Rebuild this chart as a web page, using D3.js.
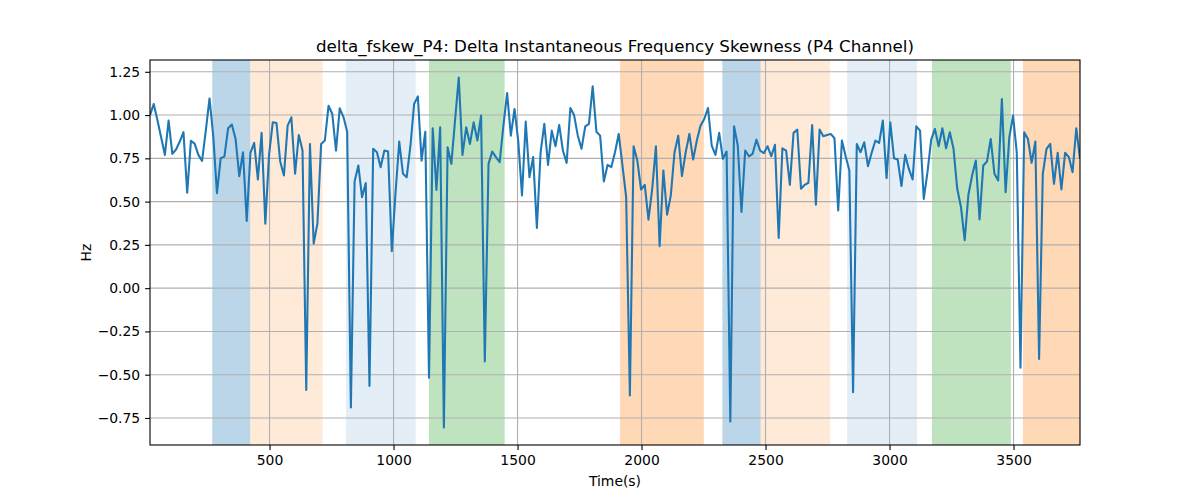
<!DOCTYPE html>
<html><head><meta charset="utf-8">
<script src="https://cdn.jsdelivr.net/npm/d3@7"></script>
<style>body{margin:0;background:#fff} svg{font-family:"DejaVu Sans",sans-serif}</style>
</head><body><svg id="c" width="1200" height="500"></svg>
<script>
// Series values (Hz), uniformly sampled
const values = [
1.000,1.064,0.97,0.87,0.770,0.968,0.776,0.801,0.847,0.901,
0.551,0.851,0.835,0.770,0.735,0.91,1.096,0.88,0.549,0.751,
0.760,0.924,0.945,0.862,0.647,0.785,0.388,0.782,0.839,0.628,
0.897,0.373,0.77,0.958,0.954,0.732,0.651,0.939,0.987,0.661,
0.885,0.795,-0.588,0.833,0.257,0.373,0.833,0.853,1.054,1.006,
0.795,1.039,0.99,0.904,-0.689,0.616,0.709,0.526,0.607,-0.565,
0.805,0.785,0.699,0.795,0.789,0.213,0.55,0.847,0.661,0.641,
0.82,1.064,1.108,0.737,0.904,-0.517,0.924,0.568,0.929,-0.805,
0.814,0.718,0.968,1.217,0.770,0.929,0.833,0.958,0.853,0.997,
-0.424,0.718,0.789,0.757,0.728,0.939,1.127,0.881,1.035,0.847,
0.536,0.962,0.641,0.757,0.348,0.785,0.949,0.712,0.910,0.820,
0.943,0.795,0.724,1.041,1.000,0.881,0.805,0.935,0.949,1.166,
0.904,0.881,0.616,0.712,0.699,0.785,0.891,0.709,0.526,-0.620,
0.820,0.737,0.570,0.597,0.396,0.574,0.820,0.242,0.680,0.424,
0.536,0.785,0.881,0.647,0.785,0.891,0.743,0.853,0.939,0.977,
1.041,0.824,0.770,0.897,0.747,0.789,-0.770,0.935,0.824,0.440,
0.795,0.762,0.776,0.858,0.795,0.780,0.820,0.762,0.828,0.290,
0.808,0.795,0.597,0.897,0.916,0.574,0.597,0.609,0.943,0.482,
0.916,0.878,0.885,0.891,0.866,0.449,0.853,0.762,0.680,-0.601,
0.833,0.785,0.843,0.705,0.782,0.853,0.839,0.968,0.636,0.958,
0.751,0.743,0.590,0.770,0.689,0.628,0.935,0.910,0.516,0.670,
0.858,0.920,0.820,0.924,0.808,0.901,0.805,0.574,0.469,0.277,
0.540,0.651,0.737,0.397,0.709,0.732,0.862,0.661,0.622,1.093,
0.555,0.872,0.997,0.785,-0.459,0.901,0.862,0.724,0.847,-0.409,
0.661,0.805,0.833,0.603,0.782,0.570,0.782,0.757,0.670,0.924,
0.747
];
const T0 = 18, STEP = 15; // sampling grid of the time axis (s)
const times = values.map((_, i) => T0 + i * STEP);

const spanStarts = [269, 422, 808, 1143, 1913, 2326, 2480, 2829, 3171, 3538];
const spanEnds   = [422, 714, 1089, 1448, 2251, 2480, 2760, 3111, 3489, 3768];
const spanKinds  = ["blue","lightorange","lightblue","green","orange","blue","lightorange","lightblue","green","orange"];

const xTicks = [500, 1000, 1500, 2000, 2500, 3000, 3500];
const yTicks = [-0.75, -0.5, -0.25, 0, 0.25, 0.5, 0.75, 1.0, 1.25];

const titleText = "delta_fskew_P4: Delta Instantaneous Frequency Skewness (P4 Channel)";
const xLabel = "Time(s)";
const yLabel = "Hz";

const spanStyle = {
  blue: {fill: "#1f77b4", op: 0.3},
  orange: {fill: "#ff7f0e", op: 0.3},
  lightorange: {fill: "#ff7f0e", op: 0.16},
  lightblue: {fill: "#1f77b4", op: 0.12},
  green: {fill: "#2ca02c", op: 0.3}
};

const L = 150, R = 1080, T = 60, B = 445;
const svg = d3.select("#c");

const x = d3.scaleLinear().domain([times[0], times[times.length - 1]]).range([L, R]);
const [ymin, ymax] = d3.extent(values);
const pad = (ymax - ymin) * 0.05;
const y = d3.scaleLinear().domain([ymin - pad, ymax + pad]).range([B, T]);

svg.append("defs").append("clipPath").attr("id", "clip")
  .append("rect").attr("x", L).attr("y", T).attr("width", R - L).attr("height", B - T);

const plot = svg.append("g").attr("clip-path", "url(#clip)");

// spans
plot.selectAll("rect.span").data(spanStarts.map((s, i) => ({s, e: spanEnds[i], k: spanKinds[i]})))
  .join("rect").attr("class", "span")
  .attr("x", d => x(d.s)).attr("width", d => x(d.e) - x(d.s))
  .attr("y", T).attr("height", B - T)
  .attr("fill", d => spanStyle[d.k].fill).attr("fill-opacity", d => spanStyle[d.k].op);

// grid
plot.selectAll("line.gx").data(xTicks).join("line")
  .attr("x1", d => x(d)).attr("x2", d => x(d)).attr("y1", T).attr("y2", B)
  .attr("stroke", "#b0b0b0").attr("stroke-width", 1.1);
plot.selectAll("line.gy").data(yTicks).join("line")
  .attr("y1", d => y(d)).attr("y2", d => y(d)).attr("x1", L).attr("x2", R)
  .attr("stroke", "#b0b0b0").attr("stroke-width", 1.1);

// line
const line = d3.line().x((d, i) => x(times[i])).y(d => y(d));
plot.append("path").datum(values).attr("d", line)
  .attr("fill", "none").attr("stroke", "#1f77b4").attr("stroke-width", 2.08)
  .attr("stroke-linejoin", "round");

// axes
const fs = "13.9px";
const xAxis = svg.append("g").attr("transform", `translate(0,${B})`)
  .call(d3.axisBottom(x).tickValues(xTicks).tickFormat(d3.format("d")).tickSize(4.9).tickPadding(4.9));
const yAxis = svg.append("g").attr("transform", `translate(${L},0)`)
  .call(d3.axisLeft(y).tickValues(yTicks).tickFormat(d3.format(".2f")).tickSize(4.9).tickPadding(4.9));
[xAxis, yAxis].forEach(a => {
  a.select(".domain").remove();
  a.selectAll(".tick line").attr("stroke", "#000").attr("stroke-width", 1.1);
  a.selectAll(".tick text").attr("font-size", fs).attr("fill", "#000")
    .attr("font-family", "'DejaVu Sans', sans-serif");
});

// frame
svg.append("rect").attr("x", L).attr("y", T).attr("width", R - L).attr("height", B - T)
  .attr("fill", "none").attr("stroke", "#000").attr("stroke-width", 1.1);

// labels
svg.append("text").attr("x", (L + R) / 2).attr("y", 51.7).attr("text-anchor", "middle")
  .attr("font-size", "16.7px").attr("fill", "#000").text(titleText);
svg.append("text").attr("x", (L + R) / 2).attr("y", 486).attr("text-anchor", "middle")
  .attr("font-size", fs).attr("fill", "#000").text(xLabel);
svg.append("text").attr("transform", `translate(91,${(T + B) / 2}) rotate(-90)`)
  .attr("text-anchor", "middle").attr("font-size", fs).attr("fill", "#000").text(yLabel);
</script></body></html>
